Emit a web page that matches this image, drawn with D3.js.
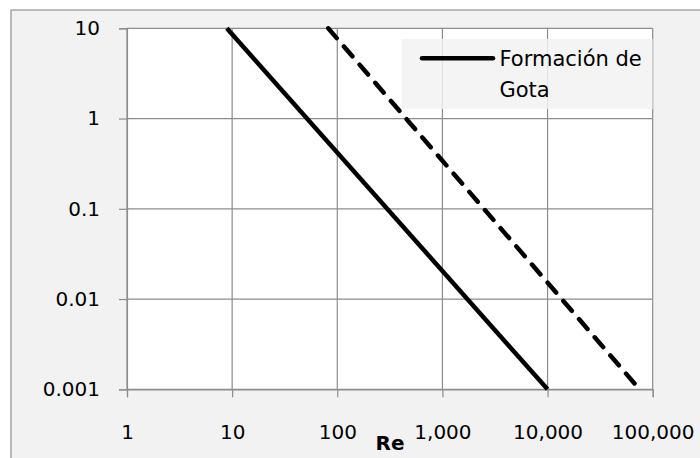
<!DOCTYPE html>
<html>
<head>
<meta charset="utf-8">
<script src="https://cdn.jsdelivr.net/npm/d3@7"></script>
<style>
  html, body { margin: 0; padding: 0; background: #ffffff; }
  svg { display: block; }
  text { font-family: "DejaVu Sans", sans-serif; fill: #000; }
</style>
</head>
<body>
<svg id="chart" width="700" height="458"></svg>
<script>
// ---- data ----
const xTicks = [1, 10, 100, 1000, 10000, 100000];
const yTicks = [0.001, 0.01, 0.1, 1, 10];
const xTickLabels = ["1", "10", "100", "1,000", "10,000", "100,000"];
const yTickLabels = ["0.001", "0.01", "0.1", "1", "10"];
const solidRe = [8.9, 10000];
const solidY = [10, 0.001];
const dashedRe = [82, 75000];
const dashedY = [10, 0.001];
const legendLines = ["Formación de", "Gota"];
const xTitle = "Re";

// ---- layout ----
const svg = d3.select("#chart");
const plot = { left: 127, right: 652.7, top: 28.3, bottom: 389.3 };

svg.append("rect")
  .attr("x", 11).attr("y", 10).attr("width", 720).attr("height", 470)
  .attr("fill", "#f2f2f2").attr("stroke", "#a6a6a6").attr("stroke-width", 1.5);

svg.append("rect")
  .attr("x", plot.left).attr("y", plot.top)
  .attr("width", plot.right - plot.left).attr("height", plot.bottom - plot.top)
  .attr("fill", "#ffffff");

const x = d3.scaleLog().domain([1, 100000]).range([plot.left, plot.right]);
const y = d3.scaleLog().domain([0.001, 10]).range([plot.bottom, plot.top]);

const gridColor = "#8c8c8c";

// gridlines
svg.append("g").selectAll("line").data(xTicks).join("line")
  .attr("x1", d => x(d)).attr("x2", d => x(d))
  .attr("y1", plot.top).attr("y2", plot.bottom)
  .attr("stroke", gridColor).attr("stroke-width", 1.2);
svg.append("g").selectAll("line").data(yTicks).join("line")
  .attr("x1", plot.left).attr("x2", plot.right)
  .attr("y1", d => y(d)).attr("y2", d => y(d))
  .attr("stroke", gridColor).attr("stroke-width", 1.2);

// axes
const xAxis = d3.axisBottom(x).tickValues(xTicks)
  .tickFormat((d, i) => xTickLabels[i]).tickSize(8).tickPadding(27.5);
const gx = svg.append("g").attr("transform", `translate(0,${plot.bottom})`).call(xAxis);
gx.select(".domain").attr("stroke", gridColor).attr("stroke-width", 1.2);
gx.selectAll(".tick line").attr("stroke", gridColor).attr("stroke-width", 1.2);
gx.selectAll(".tick text").attr("font-size", 20).attr("font-family", "DejaVu Sans").attr("fill", "#000");

const yAxis = d3.axisLeft(y).tickValues(yTicks)
  .tickFormat((d, i) => yTickLabels[i]).tickSize(8).tickPadding(19);
const gy = svg.append("g").attr("transform", `translate(${plot.left},0)`).call(yAxis);
gy.select(".domain").attr("stroke", gridColor).attr("stroke-width", 1.2);
gy.selectAll(".tick line").attr("stroke", gridColor).attr("stroke-width", 1.2);
gy.selectAll(".tick text").attr("font-size", 20).attr("font-family", "DejaVu Sans").attr("fill", "#000");

// lines
const line = d3.line().x(d => x(d[0])).y(d => y(d[1]));
svg.append("path")
  .datum(solidRe.map((r, i) => [r, solidY[i]]))
  .attr("d", line).attr("fill", "none")
  .attr("stroke", "#000").attr("stroke-width", 4.5);
svg.append("path")
  .datum(dashedRe.map((r, i) => [r, dashedY[i]]))
  .attr("d", line).attr("fill", "none")
  .attr("stroke", "#000").attr("stroke-width", 4.5)
  .attr("stroke-linecap", "round").attr("stroke-dasharray", "13,11");

// legend
const lg = svg.append("g");
lg.append("rect")
  .attr("x", 401.7).attr("y", 39).attr("width", 251).attr("height", 70)
  .attr("fill", "#f2f2f2").attr("fill-opacity", 0.85);
lg.append("line")
  .attr("x1", 422).attr("x2", 493).attr("y1", 58.3).attr("y2", 58.3)
  .attr("stroke", "#000").attr("stroke-width", 4.5).attr("stroke-linecap", "round");
lg.selectAll("text").data(legendLines).join("text")
  .attr("x", 499.5).attr("y", (d, i) => 65.7 + i * 31)
  .attr("font-size", 21).text(d => d);

// x title
svg.append("text")
  .attr("x", 390).attr("y", 450).attr("text-anchor", "middle")
  .attr("font-size", 20).attr("font-weight", "bold").text(xTitle);
</script>
</body>
</html>
